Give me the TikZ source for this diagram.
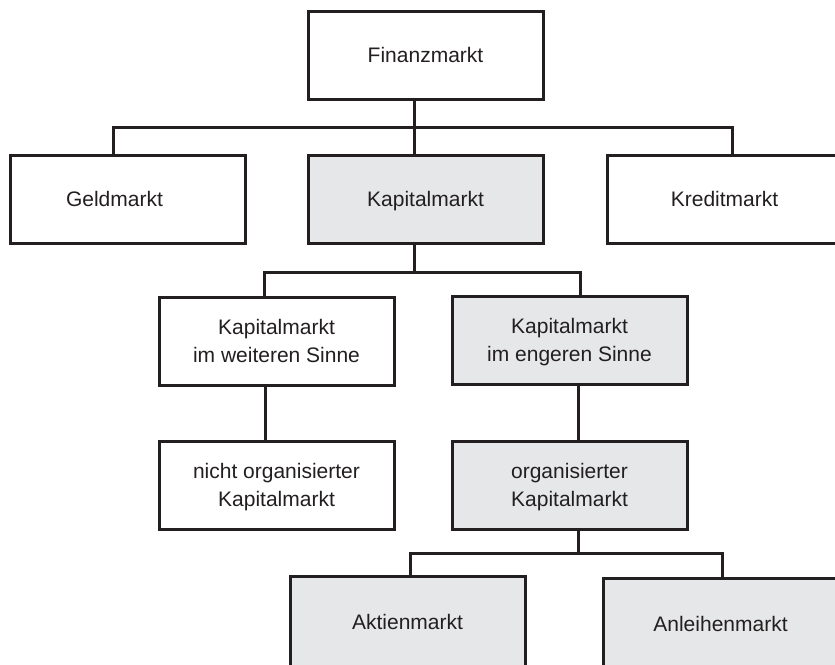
\documentclass[tikz,border=0pt]{standalone}
\usepackage{fontspec}
\setmainfont{Liberation Sans}
\definecolor{ink}{HTML}{231F20}
\definecolor{shade}{HTML}{E6E7E8}
% uniform line strut so every box keeps the same baseline
\newcommand\lnstrut{\rule[-4.5pt]{0pt}{24pt}}
\tikzset{
  box/.style={draw=ink, line width=3pt, text=ink, minimum width=235pt, minimum height=88pt,
    align=center, font=\fontsize{21}{28}\selectfont, inner sep=0pt},
  hbox/.style={box, fill=shade},
  link/.style={draw=ink, line width=3pt}
}
\begin{document}
\begin{tikzpicture}[x=1pt, y=-1pt]
\useasboundingbox (0,0) rectangle (835,664);
\clip (0,0) rectangle (835,664);
\fill[white] (0,0) rectangle (835,664);

% top level
\node[box]  (fin)  at (425.5,55)  {\lnstrut Finanzmarkt};
% second level
\node[box]  (geld) at (127.5,199) {\lnstrut Geldmarkt\kern26pt};
\node[hbox] (kap)  at (425.5,199) {\lnstrut Kapitalmarkt};
\node[box]  (kred) at (724.5,199) {\lnstrut Kreditmarkt};
% third level
\node[box]  (kws)  at (276.5,341) {\lnstrut Kapitalmarkt\\\lnstrut im weiteren Sinne};
\node[hbox] (kes)  at (569.5,340) {\lnstrut Kapitalmarkt\\\lnstrut im engeren Sinne};
% fourth level
\node[box]  (nor)  at (276.5,485) {\lnstrut nicht organisierter\\\lnstrut Kapitalmarkt};
\node[hbox] (org)  at (569.5,485) {\lnstrut organisierter\\\lnstrut Kapitalmarkt};
% fifth level (runs past the lower edge)
\node[hbox, minimum height=92pt] (akt) at (407.5,622) {\lnstrut Aktienmarkt};
\node[hbox, minimum height=92pt] (anl) at (720.5,624) {\lnstrut Anleihenmarkt};

% bus lines
\coordinate (b1) at (414,127);
\coordinate (b2) at (414,272);
\coordinate (b3) at (578.5,553);

\draw[link] ([xshift=-11.5pt]fin.south) -- ([xshift=-11.5pt]kap.north);
\draw[link] ([xshift=-14.5pt]geld.north) |- (b1) -| ([xshift=7.5pt]kred.north);

\draw[link] ([xshift=-11.5pt]kap.south) -- (b2);
\draw[link] ([xshift=-12.5pt]kws.north) |- (b2) -| ([xshift=10.5pt]kes.north);

\draw[link] ([xshift=-11pt]kws.south) -- ([xshift=-11pt]nor.north);
\draw[link] ([xshift=9pt]kes.south) -- ([xshift=9pt]org.north);

\draw[link] ([xshift=9pt]org.south) -- (b3);
\draw[link] ([xshift=2.5pt]akt.north) |- (b3) -| ([xshift=1.5pt]anl.north);
\end{tikzpicture}
\end{document}
